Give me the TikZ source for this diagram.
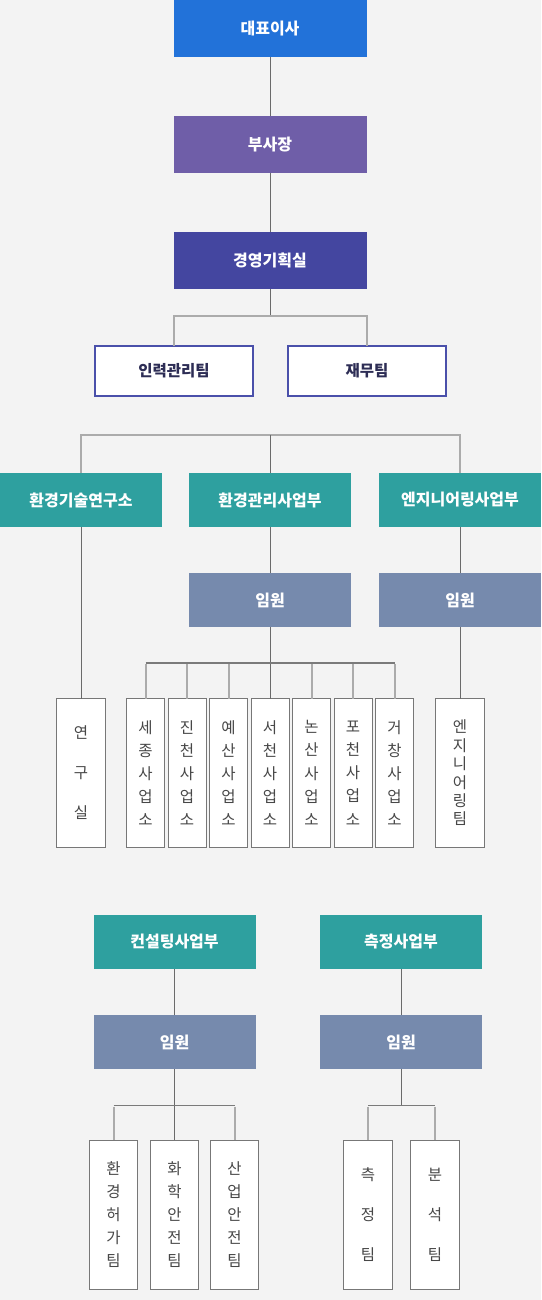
\documentclass[tikz,border=0pt]{standalone}
\usepackage{fontspec}
\setmainfont{Noto Sans CJK KR}
\definecolor{bg}{HTML}{F3F3F3}
\definecolor{ceoc}{HTML}{2272D9}
\definecolor{vpc}{HTML}{6F5EA8}
\definecolor{planc}{HTML}{4446A0}
\definecolor{teal}{HTML}{2EA09F}
\definecolor{exec}{HTML}{768AAD}
\definecolor{navyb}{HTML}{4A50AA}
\definecolor{navyt}{HTML}{2D2D55}
\definecolor{darkline}{HTML}{6A6A6A}
\definecolor{lightline}{HTML}{ABABAB}
\definecolor{midline}{HTML}{7A7A7A}
\definecolor{vtext}{HTML}{474747}
\definecolor{vborder}{HTML}{777777}
\begin{document}
\begin{tikzpicture}[x=1pt,y=-1pt,
  hdr/.style={inner sep=0pt,outer sep=0pt,text=white,font=\fontsize{16}{18}\selectfont\bfseries,minimum width=162,minimum height=54},
  topbox/.style={hdr,minimum width=193,minimum height=57},
  wbox/.style={draw=navyb,line width=2pt,fill=white,inner sep=0pt,outer sep=0pt,text=navyt,font=\fontsize{15.5}{18}\selectfont\bfseries,minimum width=158,minimum height=50},
  vbox/.style={draw=vborder,line width=1pt,fill=white,inner sep=0pt,outer sep=0pt,text=vtext,align=center,minimum height=149,minimum width=48.5},
  narrow/.style={minimum width=38},
  tight/.style={font=\fontsize{15.5}{18.4}\selectfont},
  mid/.style={font=\fontsize{15.5}{23.2}\selectfont},
  wide/.style={font=\fontsize{15.5}{40}\selectfont},
  mainline/.style={draw=darkline,line width=1pt},
  brk/.style={draw=lightline,line width=2pt},
  brkh/.style={draw=midline,line width=1.5pt}
]
\fill[bg] (0,0) rectangle (541,1300);
\useasboundingbox (0,0) rectangle (541,1300);

% top chain
\node[topbox,fill=ceoc] (ceo) at (270,28.5) {대표이사};
\node[topbox,fill=vpc] (vp) at (270,144.5) {부사장};
\node[topbox,fill=planc] (plan) at (270,260.5) {경영기획실};
\draw[mainline] (ceo.south) -- (vp.north);
\draw[mainline] (vp.south) -- (plan.north);

% HR / finance
\node[wbox] (hr) at (174,371) {인력관리팀};
\node[wbox] (fin) at (367,371) {재무팀};
\coordinate (b1) at (270,316);
\draw[mainline] (plan.south) -- (b1);
\draw[brk] (hr.north) -- (hr.north|-b1) -- (fin.north|-b1) -- (fin.north);

% divisions
\node[hdr,fill=teal] (lab) at (81,500) {환경기술연구소};
\node[hdr,fill=teal] (envd) at (270,500) {환경관리사업부};
\node[hdr,fill=teal] (engd) at (460,500) {엔지니어링사업부};
\coordinate (b2) at (270,435);
\draw[brk] (lab.north) -- (lab.north|-b2) -- (engd.north|-b2) -- (engd.north);
\draw[mainline] (b2) -- (envd.north);

% executives
\node[hdr,fill=exec] (exenv) at (270,600) {임원};
\node[hdr,fill=exec] (exeng) at (460,600) {임원};
\draw[mainline] (envd.south) -- (exenv.north);
\draw[mainline] (engd.south) -- (exeng.north);

% lower boxes
\node[vbox,wide] (yeon) at (81,773) {연\\구\\실};
\node[vbox,narrow,mid] (s1) at (145.5,773) {세\\종\\사\\업\\소};
\node[vbox,narrow,mid] (s2) at (187,773) {진\\천\\사\\업\\소};
\node[vbox,narrow,mid] (s3) at (228.5,773) {예\\산\\사\\업\\소};
\node[vbox,narrow,mid] (s4) at (270,773) {서\\천\\사\\업\\소};
\node[vbox,narrow,mid] (s5) at (311.5,773) {논\\산\\사\\업\\소};
\node[vbox,narrow,mid] (s6) at (353,773) {포\\천\\사\\업\\소};
\node[vbox,narrow,mid] (s7) at (394.5,773) {거\\창\\사\\업\\소};
\node[vbox,tight] (engt) at (460,773) {엔\\지\\니\\어\\링\\팀};

\draw[mainline] (lab.south) -- (yeon.north);
\draw[mainline] (exeng.south) -- (engt.north);
\draw[mainline] (exenv.south) -- (s4.north);
\coordinate (b3) at (270,663);
\draw[brkh] (s1.north|-b3) -- (s7.north|-b3);
\foreach \n in {s1,s2,s3,s5,s6,s7} \draw[brk] ([yshift=-1pt]\n.north|-b3) -- (\n.north);

% bottom divisions
\node[hdr,fill=teal] (cons) at (174.5,942) {컨설팅사업부};
\node[hdr,fill=teal] (meas) at (401,942) {측정사업부};
\node[hdr,fill=exec] (excon) at (174.5,1042) {임원};
\node[hdr,fill=exec] (exmeas) at (401,1042) {임원};
\draw[mainline] (cons.south) -- (excon.north);
\draw[mainline] (meas.south) -- (exmeas.north);

\node[vbox,mid] (c1) at (113.5,1214.5) {환\\경\\허\\가\\팀};
\node[vbox,mid] (c2) at (174.5,1214.5) {화\\학\\안\\전\\팀};
\node[vbox,mid] (c3) at (234.5,1214.5) {산\\업\\안\\전\\팀};
\node[vbox,wide] (m1) at (368,1214.5) {측\\정\\팀};
\node[vbox,wide] (m2) at (435,1214.5) {분\\석\\팀};

\coordinate (b4) at (174.5,1105.5);
\coordinate (b5) at (401,1105.5);
\draw[mainline] (excon.south) -- (c2.north);
\draw[brkh] (c1.north|-b4) -- (c3.north|-b4);
\draw[brk] ([yshift=-1pt]c1.north|-b4) -- (c1.north);
\draw[brk] ([yshift=-1pt]c3.north|-b4) -- (c3.north);
\draw[mainline] (exmeas.south) -- (b5);
\draw[brkh] (m1.north|-b5) -- (m2.north|-b5);
\draw[brk] ([yshift=-1pt]m1.north|-b5) -- (m1.north);
\draw[brk] ([yshift=-1pt]m2.north|-b5) -- (m2.north);
\end{tikzpicture}
\end{document}
